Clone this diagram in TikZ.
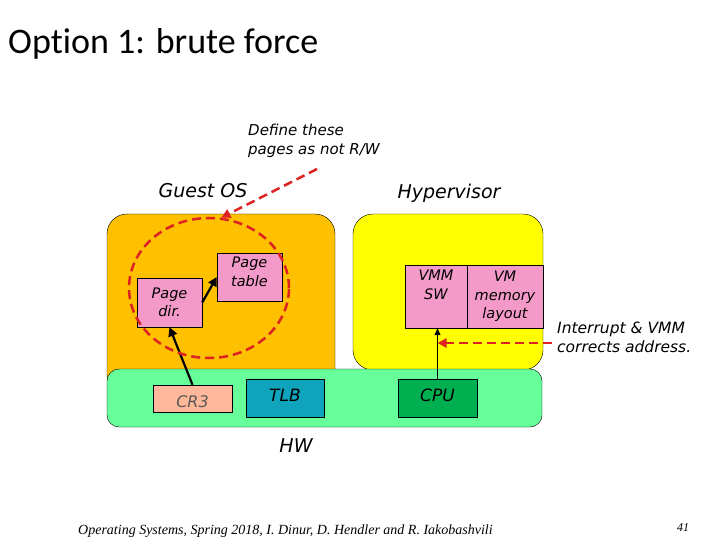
\documentclass[tikz,border=0pt]{standalone}
\usepackage{fontspec}
\setmainfont{Liberation Serif}
\newfontfamily\titlefont[Ligatures=NoCommon]{Carlito}
\newfontfamily\comic{DejaVu Sans}
\usetikzlibrary{arrows.meta,shapes.geometric}
\definecolor{guestorange}{HTML}{FFC000}
\definecolor{hypyellow}{HTML}{FFFF00}
\definecolor{hwgreen}{HTML}{66FF99}
\definecolor{pagepink}{HTML}{F49AC8}
\definecolor{crpeach}{HTML}{FFB899}
\definecolor{tlbteal}{HTML}{0FA3BC}
\definecolor{cpugreen}{HTML}{00B050}
\definecolor{dashred}{HTML}{DD2222}
\tikzset{
  layer/.style = {draw=black, rounded corners=20pt},
  unit/.style = {draw=black, inner sep=0pt},
  unittext/.style = {inner sep=0pt, align=center,
                 font=\comic\itshape\fontsize{14.5}{18.5}\selectfont},
  hwtext/.style = {inner sep=0pt, font=\comic\itshape\fontsize{17}{18}\selectfont},
  lbl/.style = {font=\comic\itshape\fontsize{19}{20}\selectfont},
  note/.style = {align=left, anchor=north west, inner sep=0pt,
                 font=\comic\itshape\fontsize{15}{19}\selectfont},
  redarrow/.style = {dash pattern=on 9pt off 5pt, line width=2.5pt,
                     draw=dashred, -{Triangle[length=9pt,width=9pt]}},
}
\begin{document}
\begin{tikzpicture}[x=1pt, y=-1pt]
	\useasboundingbox (0,0) rectangle (720,540);
	
	% title
	\node[anchor=west, inner sep=0pt, font=\titlefont\fontsize{36}{40}\selectfont] (title) at (8,44) {Option 1: brute force};
	
	% the three layers
	\draw[layer, fill=guestorange] (107,214) rectangle (335,395);
	\draw[layer, fill=hypyellow] (353,214) rectangle (543,370);
	\draw[layer, fill=hwgreen, rounded corners=12pt] (107,369) rectangle (542,427);
	
	\node[lbl] (guest) at (203,191) {Guest OS};
	\node[lbl] (hyp) at (449,193) {Hypervisor};
	\node[lbl] (hw) at (296,446) {HW};
	
	% guest page tables
	\node[unit, fill=pagepink, minimum width=65pt, minimum height=49pt] (pdir) at (169.5,302.5) {};
	\node[unittext] (pdirtxt) at (pdir) {Page\\dir.};
	\node[unit, fill=pagepink, minimum width=65pt, minimum height=48pt] (ptab) at (249.5,277) {};
	\node[unittext, anchor=north] (ptabtxt) at ([yshift=-4pt]ptab.north) {Page\\table};
	
	% hardware units
	\node[unit, fill=crpeach, minimum width=79pt, minimum height=27pt] (cr3) at (192.5,398.5) {};
	\node[hwtext, text=black!65, font=\comic\itshape\fontsize{16}{18}\selectfont] (cr3txt) at ([yshift=-3pt]cr3) {CR3};
	\node[unit, fill=tlbteal, minimum width=78pt, minimum height=38pt, anchor=north] (tlb) at (285,379) {};
	\node[hwtext] (tlbtxt) at ([yshift=-16pt]tlb.north) {TLB};
	\node[unit, fill=cpugreen, minimum width=79pt, minimum height=38pt, anchor=north] (cpu) at (437.5,379) {};
	\node[hwtext] (cputxt) at ([yshift=-16pt]cpu.north) {CPU};
	
	% hypervisor units
	\node[unit, fill=pagepink, minimum width=62pt, minimum height=63pt] (vmm) at (436,296.5) {};
	\node[unittext, anchor=north] (vmmtxt) at ([yshift=-5pt]vmm.north) {VMM\\SW};
	\node[unit, fill=pagepink, minimum width=76pt, minimum height=63pt] (vmlay) at (505,296.5) {};
	\node[unittext] (vmlaytxt) at (vmlay) {VM\\memory\\layout};
	
	% links
	\draw[line width=2.2pt, -{Triangle[length=9pt,width=9pt]}] (cr3.north) -- (pdir.south);
	\draw[line width=2.2pt, -{Triangle[length=9pt,width=9pt]}] (pdir.east) -- (ptab.west);
	\draw[line width=1.2pt, -{Triangle[length=7pt,width=6pt]}] (cpu.north) -- (cpu.north |- vmm.south);
	
	% protected pages
	\node[ellipse, draw=dashred, dash pattern=on 9pt off 5pt, line width=2.5pt,
	      minimum width=160pt, minimum height=140pt] (ring) at (209,288) {};
	
	\node[note] (define) at (248,124) {Define these\\pages as not R/W};
	\coordinate (defstart) at (317,169);
	\draw[redarrow] (defstart) -- (ring.80);
	
	\node[note, font=\comic\itshape\fontsize{15.5}{19}\selectfont] (intr) at (557,322) {Interrupt \& VMM\\corrects address.};
	\coordinate (intstart) at (552,343);
	\coordinate (intend) at (437.5,343);
	\draw[redarrow] (intstart) -- (intend);
	
	% footer
	\node[anchor=west, inner sep=0pt, font=\itshape\fontsize{14}{15}\selectfont] (foot) at (78,531) {Operating Systems, Spring 2018, I. Dinur, D. Hendler and R. Iakobashvili};
	\node[inner sep=0pt, font=\itshape\fontsize{12}{14}\selectfont] (pnum) at (683,528) {41};
\end{tikzpicture}
\end{document}
